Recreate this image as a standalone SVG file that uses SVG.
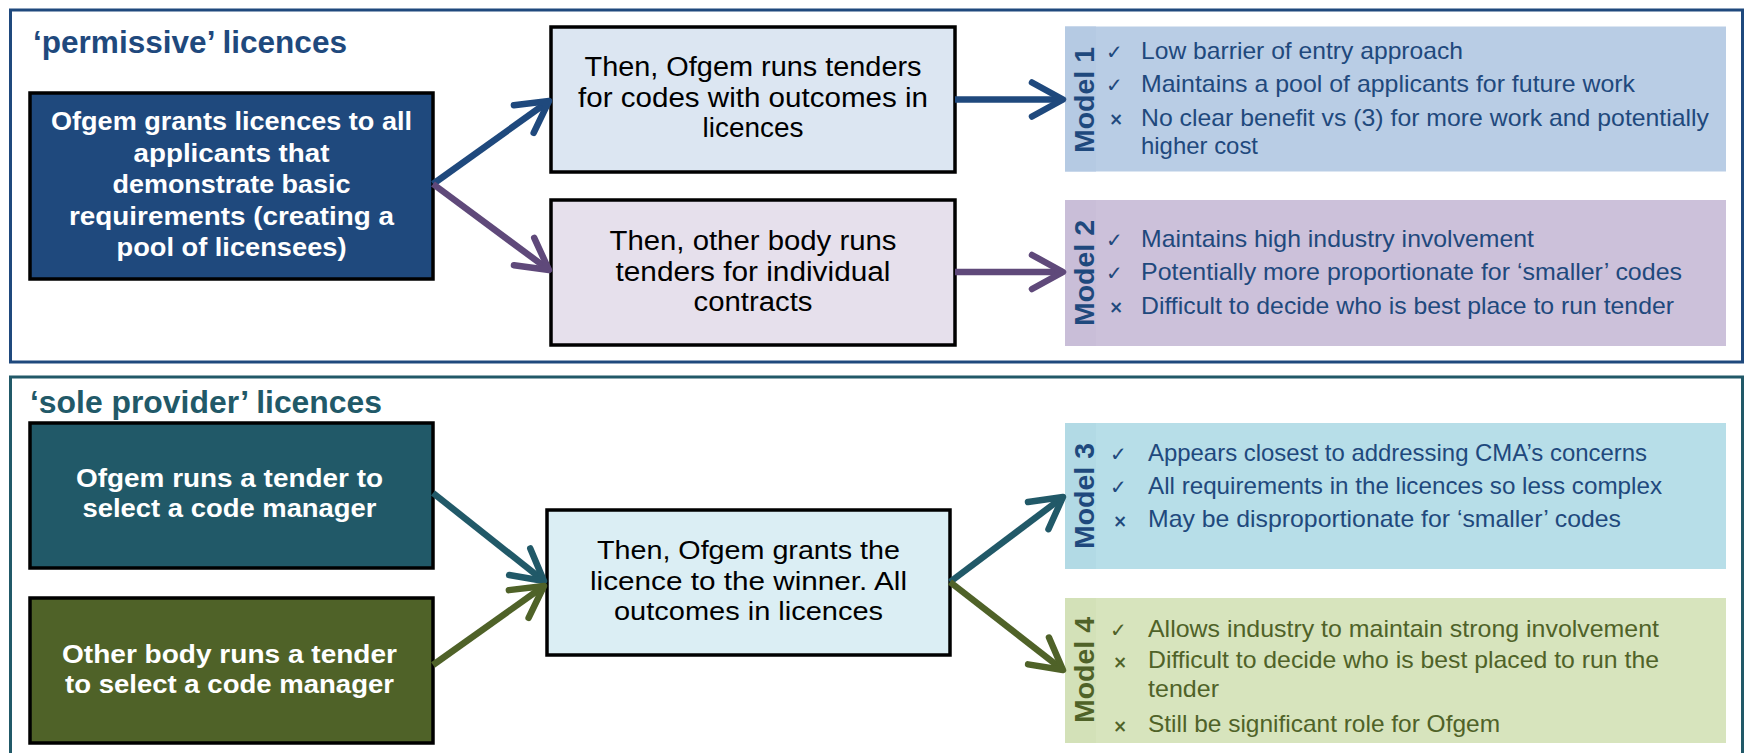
<svg xmlns="http://www.w3.org/2000/svg" width="1746" height="753" viewBox="0 0 1746 753">
<style>
text{font-family:"Liberation Sans",Arial,sans-serif}
.ttl{font-size:31.5px;font-weight:bold}
.lb{font-size:26.5px;font-weight:bold;fill:#fff;text-anchor:middle}
.mid{font-size:27px;fill:#000;text-anchor:middle}
.mid2{font-size:26.5px;fill:#000;text-anchor:middle}
.box{stroke:#000;stroke-width:3.5}
.it{font-size:24px}
.ml{font-size:28.5px;font-weight:bold;text-anchor:middle}
.ck{font-family:"DejaVu Sans",sans-serif;font-size:20px}
.cx{font-family:"DejaVu Sans",sans-serif;font-size:17px;font-weight:bold}
.ln{fill:none;stroke-width:6.5}
</style>
<defs>
<marker id="mBlue" markerUnits="userSpaceOnUse" markerWidth="50" markerHeight="50" viewBox="-40 -25 50 50" refX="0" refY="0" orient="auto" overflow="visible"><path d="M-31,-17 L0,0 L-31,17" fill="none" stroke="#1F497D" stroke-width="6.5" stroke-linecap="round" stroke-linejoin="round"/></marker>
<marker id="mPurple" markerUnits="userSpaceOnUse" markerWidth="50" markerHeight="50" viewBox="-40 -25 50 50" refX="0" refY="0" orient="auto" overflow="visible"><path d="M-31,-17 L0,0 L-31,17" fill="none" stroke="#5F497A" stroke-width="6.5" stroke-linecap="round" stroke-linejoin="round"/></marker>
<marker id="mTeal" markerUnits="userSpaceOnUse" markerWidth="50" markerHeight="50" viewBox="-40 -25 50 50" refX="0" refY="0" orient="auto" overflow="visible"><path d="M-31,-17 L0,0 L-31,17" fill="none" stroke="#215968" stroke-width="6.5" stroke-linecap="round" stroke-linejoin="round"/></marker>
<marker id="mOlive" markerUnits="userSpaceOnUse" markerWidth="50" markerHeight="50" viewBox="-40 -25 50 50" refX="0" refY="0" orient="auto" overflow="visible"><path d="M-31,-17 L0,0 L-31,17" fill="none" stroke="#4F6228" stroke-width="6.5" stroke-linecap="round" stroke-linejoin="round"/></marker>
</defs>
<rect width="1746" height="753" fill="#fff"/>

<g id="permissive-frame">
<rect x="10.5" y="10" width="1732" height="352" fill="none" stroke="#1F497D" stroke-width="3"/>
<text class="ttl" x="33" y="53" fill="#1F497D" textLength="314" lengthAdjust="spacingAndGlyphs">‘permissive’ licences</text>
</g>
<g id="sole-frame">
<rect x="10.5" y="377" width="1732" height="400" fill="none" stroke="#215968" stroke-width="3"/>
<text class="ttl" x="30" y="413" fill="#215968" textLength="352" lengthAdjust="spacingAndGlyphs">‘sole provider’ licences</text>
</g>

<g id="grant-all">
<rect class="box" x="30" y="93" width="403" height="186" fill="#1F497D"/>
<text class="lb" x="231.5" y="130" textLength="361" lengthAdjust="spacingAndGlyphs">Ofgem grants licences to all</text>
<text class="lb" x="231.5" y="161.5" textLength="196" lengthAdjust="spacingAndGlyphs">applicants that</text>
<text class="lb" x="231.5" y="193" textLength="238" lengthAdjust="spacingAndGlyphs">demonstrate basic</text>
<text class="lb" x="231.5" y="224.5" textLength="325" lengthAdjust="spacingAndGlyphs">requirements (creating a</text>
<text class="lb" x="231.5" y="256" textLength="230" lengthAdjust="spacingAndGlyphs">pool of licensees)</text>
</g>
<g id="ofgem-tenders">
<rect class="box" x="551" y="27" width="404" height="145" fill="#DCE6F2"/>
<text class="mid" x="753" y="76" textLength="337" lengthAdjust="spacingAndGlyphs">Then, Ofgem runs tenders</text>
<text class="mid" x="753" y="106.5" textLength="350" lengthAdjust="spacingAndGlyphs">for codes with outcomes in</text>
<text class="mid" x="753" y="137" textLength="101" lengthAdjust="spacingAndGlyphs">licences</text>
</g>
<g id="other-tenders">
<rect class="box" x="551" y="200" width="404" height="145" fill="#E6E0EC"/>
<text class="mid" x="753" y="250" textLength="287" lengthAdjust="spacingAndGlyphs">Then, other body runs</text>
<text class="mid" x="753" y="280.5" textLength="275" lengthAdjust="spacingAndGlyphs">tenders for individual</text>
<text class="mid" x="753" y="310.5" textLength="119" lengthAdjust="spacingAndGlyphs">contracts</text>
</g>

<g id="model1">
<rect x="1065" y="26.5" width="661" height="145" fill="#B9CDE5"/>
<rect x="1065" y="26.5" width="31" height="145" fill="#B5CAE3"/>
<text class="ml" fill="#1F497D" transform="translate(1094,100) rotate(-90)">Model 1</text>
<g fill="#1F497D">
<text class="ck" x="1106" y="59">✓</text><text class="it" x="1141" y="59" textLength="322" lengthAdjust="spacingAndGlyphs">Low barrier of entry approach</text>
<text class="ck" x="1106" y="91.5">✓</text><text class="it" x="1141" y="91.5" textLength="494" lengthAdjust="spacingAndGlyphs">Maintains a pool of applicants for future work</text>
<text class="cx" x="1109" y="125">×</text><text class="it" x="1141" y="125.5" textLength="568" lengthAdjust="spacingAndGlyphs">No clear benefit vs (3) for more work and potentially</text>
<text class="it" x="1141" y="154" textLength="117" lengthAdjust="spacingAndGlyphs">higher cost</text>
</g>
</g>
<g id="model2">
<rect x="1065" y="200" width="661" height="146" fill="#CCC1DA"/>
<rect x="1065" y="200" width="31" height="146" fill="#C9BED8"/>
<text class="ml" fill="#1F497D" transform="translate(1094,273) rotate(-90)">Model 2</text>
<g fill="#1F497D">
<text class="ck" x="1106" y="246.5">✓</text><text class="it" x="1141" y="246.5" textLength="393" lengthAdjust="spacingAndGlyphs">Maintains high industry involvement</text>
<text class="ck" x="1106" y="280">✓</text><text class="it" x="1141" y="280" textLength="541" lengthAdjust="spacingAndGlyphs">Potentially more proportionate for ‘smaller’ codes</text>
<text class="cx" x="1109" y="313">×</text><text class="it" x="1141" y="313.5" textLength="533" lengthAdjust="spacingAndGlyphs">Difficult to decide who is best place to run tender</text>
</g>
</g>

<g id="ofgem-runs-tender">
<rect class="box" x="30" y="423" width="403" height="145" fill="#215968"/>
<text class="lb" x="229.5" y="487" textLength="307" lengthAdjust="spacingAndGlyphs">Ofgem runs a tender to</text>
<text class="lb" x="229.5" y="517" textLength="294" lengthAdjust="spacingAndGlyphs">select a code manager</text>
</g>
<g id="other-runs-tender">
<rect class="box" x="30" y="598" width="403" height="145" fill="#4F6228"/>
<text class="lb" x="229.5" y="662.5" textLength="335" lengthAdjust="spacingAndGlyphs">Other body runs a tender</text>
<text class="lb" x="229.5" y="693" textLength="329" lengthAdjust="spacingAndGlyphs">to select a code manager</text>
</g>
<g id="grant-winner">
<rect class="box" x="547" y="510" width="403" height="145" fill="#DBEEF4"/>
<text class="mid2" x="748.5" y="558.5" textLength="303" lengthAdjust="spacingAndGlyphs">Then, Ofgem grants the</text>
<text class="mid2" x="748.5" y="589.5" textLength="317" lengthAdjust="spacingAndGlyphs">licence to the winner. All</text>
<text class="mid2" x="748.5" y="620" textLength="269" lengthAdjust="spacingAndGlyphs">outcomes in licences</text>
</g>

<g id="model3">
<rect x="1065" y="423" width="661" height="146" fill="#B7DEE8"/>
<rect x="1065" y="423" width="31" height="146" fill="#B2DAE5"/>
<text class="ml" fill="#1F497D" transform="translate(1094,496) rotate(-90)">Model 3</text>
<g fill="#1F497D">
<text class="ck" x="1110" y="461">✓</text><text class="it" x="1148" y="461" textLength="499" lengthAdjust="spacingAndGlyphs">Appears closest to addressing CMA’s concerns</text>
<text class="ck" x="1110" y="494">✓</text><text class="it" x="1148" y="494" textLength="514" lengthAdjust="spacingAndGlyphs">All requirements in the licences so less complex</text>
<text class="cx" x="1113" y="527">×</text><text class="it" x="1148" y="527" textLength="473" lengthAdjust="spacingAndGlyphs">May be disproportionate for ‘smaller’ codes</text>
</g>
</g>
<g id="model4">
<rect x="1065" y="598" width="661" height="145" fill="#D7E4BD"/>
<rect x="1065" y="598" width="31" height="145" fill="#D3E1B8"/>
<text class="ml" fill="#4F6228" transform="translate(1094,670) rotate(-90)">Model 4</text>
<g fill="#4F6228">
<text class="ck" x="1110" y="636.5">✓</text><text class="it" x="1148" y="636.5" textLength="511" lengthAdjust="spacingAndGlyphs">Allows industry to maintain strong involvement</text>
<text class="cx" x="1113" y="668">×</text><text class="it" x="1148" y="668" textLength="511" lengthAdjust="spacingAndGlyphs">Difficult to decide who is best placed to run the</text>
<text class="it" x="1148" y="697" textLength="71" lengthAdjust="spacingAndGlyphs">tender</text>
<text class="cx" x="1113" y="731.5">×</text><text class="it" x="1148" y="731.5" textLength="352" lengthAdjust="spacingAndGlyphs">Still be significant role for Ofgem</text>
</g>
</g>

<g id="connectors">
<line class="ln" x1="433" y1="184" x2="549" y2="101" stroke="#1F497D" marker-end="url(#mBlue)"/>
<line class="ln" x1="433" y1="184" x2="549" y2="270" stroke="#5F497A" marker-end="url(#mPurple)"/>
<line class="ln" x1="955" y1="99.5" x2="1063" y2="99.5" stroke="#1F497D" marker-end="url(#mBlue)"/>
<line class="ln" x1="955" y1="272" x2="1063" y2="272" stroke="#5F497A" marker-end="url(#mPurple)"/>
<line class="ln" x1="433" y1="493" x2="544" y2="581" stroke="#215968" marker-end="url(#mTeal)"/>
<line class="ln" x1="433" y1="665" x2="544" y2="586" stroke="#4F6228" marker-end="url(#mOlive)"/>
<line class="ln" x1="950" y1="582" x2="1063" y2="497" stroke="#215968" marker-end="url(#mTeal)"/>
<line class="ln" x1="950" y1="582" x2="1063" y2="670" stroke="#4F6228" marker-end="url(#mOlive)"/>
</g>
</svg>
